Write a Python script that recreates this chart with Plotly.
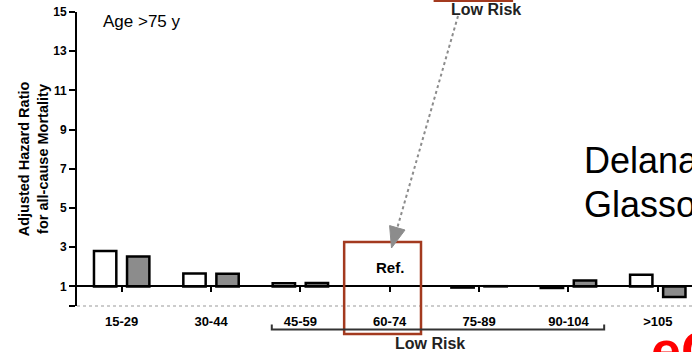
import plotly.graph_objects as go

# ---- data ----
categories = ["15-29", "30-44", "45-59", "60-74", "75-89", "90-104", ">105"]
hr_white = [2.80, 1.66, 1.16, None, 0.94, 0.92, 1.60]
hr_gray = [2.52, 1.64, 1.17, None, 1.01, 1.30, 0.46]
y_ticks = [0, 1, 3, 5, 7, 9, 11, 13, 15]
y_ticktext = ["", "1", "3", "5", "7", "9", "11", "13", "15"]
REF_VALUE = 1.0

FONT = "Liberation Sans, Arial, sans-serif"
W, H = 692, 352
ML, MR, MT = 77, 0, 12
MB = H - 306
PW, PH = W - ML - MR, H - MT - MB
XR = [-0.5, 6.383]
YR = [0, 15]


def pxx(px):  # screen px -> paper x
    return (px - ML) / PW


def pxy(py):  # screen px -> paper y
    return (H - MB - py) / PH


def dx(v):
    return (v - XR[0]) / (XR[1] - XR[0])


def dy(v):
    return (v - YR[0]) / (YR[1] - YR[0])


fig = go.Figure()
fig.add_trace(go.Bar(
    x=categories,
    y=[None if v is None else v - REF_VALUE for v in hr_white],
    base=REF_VALUE, offset=-0.31, width=0.25,
    marker=dict(color="white", line=dict(color="black", width=2.5)),
    name="white", showlegend=False,
))
fig.add_trace(go.Bar(
    x=categories,
    y=[None if v is None else v - REF_VALUE for v in hr_gray],
    base=REF_VALUE, offset=0.06, width=0.25,
    marker=dict(color="#8c8c8c", line=dict(color="black", width=2.5)),
    name="gray", showlegend=False,
))

BROWN = "#a33a1f"
GRAY = "#8c8c8c"
shapes = [
    # dotted baseline at 0
    dict(type="line", xref="paper", yref="paper", x0=0, x1=1, y0=dy(0), y1=dy(0),
         line=dict(color="#9a9a9a", width=1.2, dash="dot"), layer="below"),
    # Ref box
    dict(type="rect", xref="paper", yref="paper",
         x0=dx(2.49), x1=dx(3.35), y0=dy(-1.43), y1=dy(3.27),
         line=dict(color=BROWN, width=2.5)),
    # top box (cut)
    dict(type="rect", xref="paper", yref="paper",
         x0=dx(3.505), x1=dx(4.367), y0=dy(15.58), y1=dy(19.0),
         line=dict(color=BROWN, width=2.5)),
    # low risk bracket
    dict(type="path", xref="paper", yref="paper",
         path=f"M {dx(1.68)},{dy(-0.95)} L {dx(1.68)},{dy(-1.2)} L {dx(5.40)},{dy(-1.2)} L {dx(5.40)},{dy(-0.95)}",
         line=dict(color="#333333", width=2)),
    # dotted arrow line
    dict(type="line", xref="paper", yref="paper",
         x0=pxx(458), y0=pxy(16), x1=pxx(397.3), y1=pxy(227.8),
         line=dict(color=GRAY, width=2, dash="dot")),
    # arrow head
    dict(type="path", xref="paper", yref="paper",
         path=f"M {pxx(391.5)},{pxy(248)} L {pxx(405.0)},{pxy(230.0)} L {pxx(389.6)},{pxy(225.6)} Z",
         fillcolor=GRAY, line=dict(color=GRAY, width=1)),
]

annotations = [
    dict(text="Age >75 y", xref="paper", yref="paper", x=pxx(101), y=pxy(21),
         xanchor="left", yanchor="middle", showarrow=False,
         font=dict(family=FONT, size=17, color="black")),
    dict(text="<b>Ref.</b>", xref="paper", yref="paper", x=dx(3.0), y=pxy(267),
         xanchor="center", yanchor="middle", showarrow=False,
         font=dict(family=FONT, size=15, color="black")),
    dict(text="<b>Low Risk</b>", xref="paper", yref="paper", x=pxx(430), y=pxy(343),
         xanchor="center", yanchor="middle", showarrow=False,
         font=dict(family=FONT, size=16, color="#222222")),
    dict(text="<b>Low Risk</b>", xref="paper", yref="paper", x=pxx(486), y=pxy(9),
         xanchor="center", yanchor="middle", showarrow=False,
         font=dict(family=FONT, size=16, color="#222222")),
    dict(text="Delana", xref="paper", yref="paper", x=pxx(582), y=pxy(160),
         xanchor="left", yanchor="middle", showarrow=False,
         font=dict(family=FONT, size=36, color="black")),
    dict(text="Glasso", xref="paper", yref="paper", x=pxx(582), y=pxy(204),
         xanchor="left", yanchor="middle", showarrow=False,
         font=dict(family=FONT, size=36, color="black")),
    dict(text="<b>eG</b>", xref="paper", yref="paper", x=pxx(649), y=pxy(318),
         xanchor="left", yanchor="top", showarrow=False,
         font=dict(family=FONT, size=54, color="#ff0000")),
]

fig.update_layout(
    width=W, height=H,
    margin=dict(l=ML, r=MR, t=MT, b=MB, pad=0, autoexpand=False),
    paper_bgcolor="white", plot_bgcolor="white",
    barmode="overlay",
    showlegend=False,
    font=dict(family=FONT, color="black"),
    xaxis=dict(
        type="category", range=XR, automargin=False,
        anchor="free", position=dy(REF_VALUE),
        showline=True, linecolor="black", linewidth=2,
        ticks="outside", ticklen=5, tickwidth=1.5, tickcolor="black",
        tickfont=dict(family=FONT, size=13, color="black", weight="bold"),
        ticklabelstandoff=18,
        showgrid=False, zeroline=False, fixedrange=True,
    ),
    yaxis=dict(
        range=YR, tickvals=y_ticks, ticktext=y_ticktext, automargin=False,
        showline=True, linecolor="black", linewidth=2,
        ticks="outside", ticklen=6, tickwidth=2, tickcolor="black",
        tickfont=dict(family=FONT, size=12, color="black", weight="bold"),
        ticklabeloverflow="allow",
        showgrid=False, zeroline=False, fixedrange=True,
        title=dict(text="Adjusted Hazard Ratio<br>for all-cause Mortality",
                   font=dict(family=FONT, size=14.5, color="black", weight="bold"),
                   standoff=1),
    ),
    shapes=shapes,
    annotations=annotations,
)

fig.write_html(
    "out.html",
    config={"displayModeBar": False},
    post_script="document.body.style.margin='0';document.body.style.overflow='hidden';",
)
